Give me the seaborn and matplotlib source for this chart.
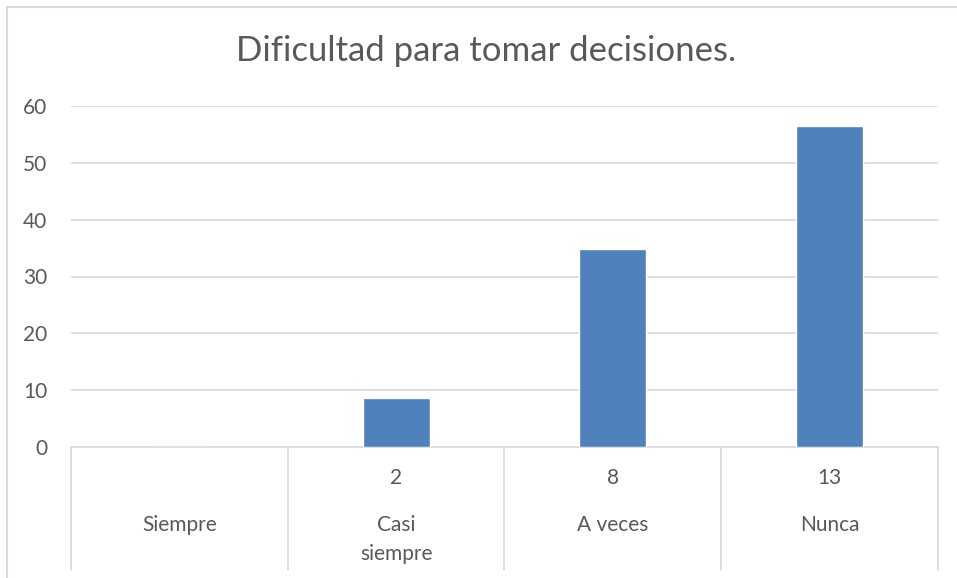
import matplotlib
matplotlib.use("Agg")
import matplotlib.pyplot as plt
import seaborn as sns
import pandas as pd

categorias = ["Siempre", "Casi\nsiempre", "A veces", "Nunca"]
frecuencias = ["", "2", "8", "13"]
porcentajes = [0, 8.7, 34.8, 56.5]
titulo = "Dificultad para tomar decisiones."

gris = "#595959"
linea = "#d9d9d9"

sns.set_theme(style="white")
plt.rcParams["font.family"] = ["Lato", "DejaVu Sans"]

df = pd.DataFrame({"cat": categorias, "valor": porcentajes})

fig = plt.figure(figsize=(9.57, 5.78), dpi=100)
ax = fig.add_axes([71 / 957, 1 - 447 / 578, 867 / 957, 341 / 578])

sns.barplot(data=df, x="cat", y="valor", color="#4F81BD", width=0.31,
            saturation=1, ax=ax, zorder=3)

ax.set_ylim(0, 60)
ax.set_xlim(-0.5, 3.5)
ax.set_yticks(range(0, 61, 10))
ax.grid(axis="y", color=linea, linewidth=1.2, zorder=0)
for s in ["top", "right", "left"]:
    ax.spines[s].set_visible(False)
ax.spines["bottom"].set_color(linea)
ax.spines["bottom"].set_linewidth(1.2)
ax.tick_params(axis="y", colors=gris, labelsize=15, length=0, pad=17)
ax.set_xticks([])
ax.set_xlabel("")
ax.set_ylabel("")

# tabla bajo el eje
tr = ax.get_xaxis_transform()
fondo = -(570 - 447) / 341
for xb in [-0.5, 0.5, 1.5, 2.5, 3.5]:
    ax.plot([xb, xb], [0, fondo], transform=tr, color=linea, lw=1.2, clip_on=False)
for i, (c, f) in enumerate(zip(categorias, frecuencias)):
    ax.text(i, -(478 - 447) / 341, f, transform=tr, ha="center", va="center",
            color=gris, fontsize=15)
    ax.text(i, -(515 - 447) / 341, c, transform=tr, ha="center", va="top",
            color=gris, fontsize=15, linespacing=1.55)

fig.text(486 / 957, 1 - 51 / 578, titulo, ha="center", va="center", color=gris, fontsize=25)

# borde del gráfico
fig.add_artist(plt.Line2D([7 / 957, 7 / 957], [0, 1 - 7 / 578], color=linea, lw=1.5))
fig.add_artist(plt.Line2D([7 / 957, 1], [1 - 7 / 578, 1 - 7 / 578], color=linea, lw=1.5))

fig.savefig("out.png", dpi=100)
